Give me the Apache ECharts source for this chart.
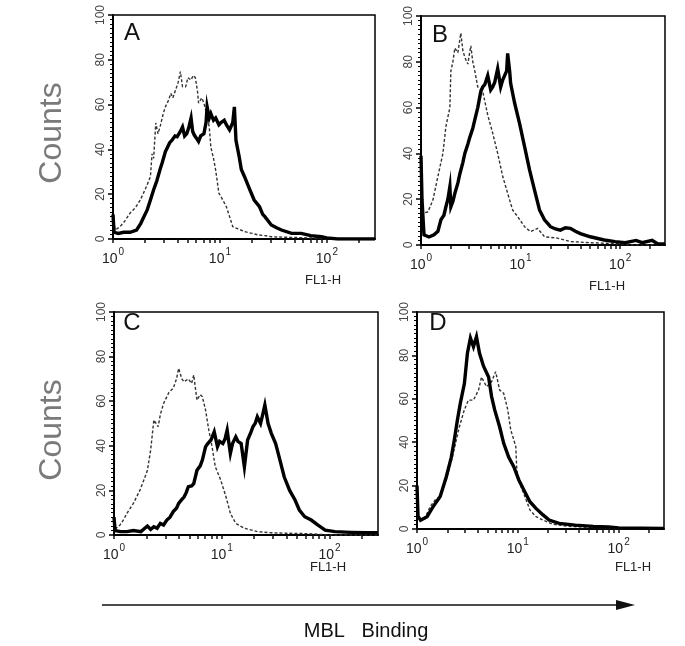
<!DOCTYPE html>
<html><head><meta charset="utf-8">
<script src="https://cdn.jsdelivr.net/npm/echarts@6/dist/echarts.min.js"></script>
<style>html,body{margin:0;padding:0;background:#fff}#c{width:685px;height:646px}</style>
</head><body><div id="c"></div>
<script>
// ---------- DATA (x in decades: log10 of FL1-H, y = counts) ----------
const panelLetters = ['A', 'B', 'C', 'D'];
const xAxisTitle = 'FL1-H';
const yAxisTitle = 'Counts';
const bottomTitle = 'MBL   Binding';
const decadeExponents = [0, 1, 2];            // labels 10^0, 10^1, 10^2
const fl1TickValues = [1,2,3,4,5,6,7,8,9,10,20,30,40,50,60,70,80,90,100,200];
const yTickMax = 100;

const A_control = [[0,10],[0.02,4],[0.066,5.5],[0.11,8],[0.16,11.6],[0.21,14],[0.255,17.4],[0.30,22],[0.35,27.8],[0.365,38],[0.38,36],[0.40,51.8],[0.42,47],[0.44,50],[0.47,56],[0.49,59],[0.52,62],[0.54,65],[0.56,63],[0.585,66.5],[0.61,70],[0.63,74.7],[0.65,68],[0.68,68],[0.70,72],[0.73,71],[0.75,73],[0.77,72],[0.79,66],[0.80,60.7],[0.83,63],[0.85,60.7],[0.87,57],[0.90,50],[0.915,41],[0.94,36],[0.96,30.8],[0.99,20.5],[1.02,18],[1.06,14.4],[1.09,10],[1.12,5.5],[1.17,4.5],[1.23,3.3],[1.30,2.5],[1.36,1.8],[1.42,1.5],[1.48,1],[1.6,0.8],[1.75,0.6],[1.9,0.4],[2.0,0],[2.45,0]];
const A_mbl = [[0,11],[0.01,3],[0.05,2.5],[0.10,3],[0.16,3],[0.22,4],[0.26,7],[0.29,10],[0.32,13],[0.35,17.4],[0.38,22],[0.41,26],[0.44,31],[0.46,34],[0.49,39],[0.51,41],[0.53,43],[0.55,44],[0.58,46],[0.60,45.7],[0.63,48],[0.65,50],[0.67,46],[0.69,47],[0.71,50],[0.73,54],[0.745,48],[0.76,46.4],[0.78,45],[0.80,43.5],[0.82,46],[0.85,47],[0.87,52],[0.88,59],[0.90,54],[0.915,56],[0.94,53],[0.96,54],[0.99,51],[1.01,52],[1.04,53],[1.06,51],[1.09,48.7],[1.12,52],[1.135,59],[1.15,44],[1.18,36.7],[1.20,31],[1.23,27.8],[1.28,21.9],[1.32,17.4],[1.37,14.4],[1.40,11],[1.42,10],[1.48,6.25],[1.53,5],[1.575,4],[1.67,2.5],[1.76,2.5],[1.85,1.5],[1.95,1],[2.0,0.5],[2.1,0],[2.45,0]];

const B_control = [[0,15],[0.03,14],[0.07,14.5],[0.12,19.7],[0.17,30],[0.22,40],[0.25,51.7],[0.29,60],[0.30,76],[0.32,80],[0.34,86],[0.37,84],[0.40,92.5],[0.42,85],[0.44,82],[0.47,79],[0.50,87],[0.52,80],[0.54,76],[0.57,69],[0.62,67],[0.67,56.8],[0.72,48.8],[0.77,40],[0.82,30],[0.87,22.6],[0.92,15.3],[0.97,12.4],[1.04,8],[1.10,5.8],[1.17,7.3],[1.24,3.6],[1.37,3],[1.50,1.5],[1.7,1],[2.0,0.5],[2.1,0],[2.45,0]];
const B_mbl = [[0,39],[0.01,20],[0.03,4.4],[0.08,3.5],[0.13,4.5],[0.17,6],[0.20,11],[0.23,13],[0.25,16.7],[0.27,20],[0.29,25.5],[0.30,16.7],[0.32,19],[0.34,22.6],[0.37,27],[0.39,31],[0.42,36],[0.44,40],[0.47,44],[0.49,47],[0.52,51],[0.54,54.6],[0.57,60],[0.60,67],[0.62,69],[0.64,70],[0.67,74],[0.70,67.7],[0.72,69],[0.74,71],[0.77,77],[0.80,69],[0.82,72],[0.84,72],[0.86,76],[0.87,83.7],[0.89,76],[0.90,70.6],[0.94,62],[0.99,53],[1.04,43],[1.09,32.8],[1.14,24],[1.19,15.3],[1.24,11],[1.30,8],[1.35,7],[1.40,6.5],[1.45,7.5],[1.50,7.3],[1.55,6],[1.60,5],[1.70,3.6],[1.84,2.2],[1.95,1.5],[2.05,1],[2.16,2],[2.22,1],[2.32,2],[2.38,0.5],[2.45,0.5]];

const C_control = [[0,8],[0.02,3],[0.056,4.5],[0.09,7],[0.12,9.7],[0.18,14.2],[0.24,20],[0.28,25],[0.31,29],[0.34,38],[0.37,51.6],[0.41,48.6],[0.43,54],[0.46,59],[0.51,64],[0.55,65.8],[0.58,70],[0.60,74.7],[0.63,70],[0.65,68.7],[0.69,70],[0.72,68],[0.74,71.7],[0.77,60.5],[0.80,63],[0.82,62],[0.85,56],[0.88,47],[0.91,39.6],[0.94,30.6],[0.99,24.7],[1.04,17],[1.08,9.7],[1.13,5.2],[1.21,3],[1.33,1.5],[1.46,1],[1.6,0.8],[1.8,0.6],[1.9,0.3],[2.0,0],[2.45,0]];
const C_mbl = [[0,8],[0.01,2],[0.06,1.5],[0.12,1.5],[0.18,2],[0.25,1.5],[0.31,4],[0.34,2.5],[0.37,3.7],[0.40,3],[0.43,5.2],[0.46,4.5],[0.49,6.7],[0.52,8],[0.55,10.5],[0.58,12],[0.60,14.2],[0.63,16],[0.65,17],[0.67,19],[0.69,21.7],[0.72,22],[0.74,23],[0.77,29],[0.80,31],[0.82,33.6],[0.85,39.6],[0.87,41],[0.90,42.6],[0.93,46.3],[0.96,39.6],[0.98,42],[1.01,41],[1.03,43],[1.05,47],[1.08,36.6],[1.10,41],[1.13,44],[1.15,42],[1.18,41],[1.21,30.6],[1.24,42.6],[1.27,46],[1.29,48.6],[1.31,50],[1.33,53],[1.36,50],[1.38,54],[1.40,58.3],[1.43,50],[1.46,45.6],[1.50,41],[1.54,33.6],[1.58,26],[1.63,20],[1.68,15.7],[1.72,11.2],[1.77,8.2],[1.83,6.7],[1.89,4.5],[1.96,2.2],[2.05,1.5],[2.2,1.2],[2.35,1],[2.45,1]];

const D_control = [[0,15],[0.02,4],[0.07,4],[0.13,10.3],[0.18,13.4],[0.23,15],[0.29,22.6],[0.35,33],[0.42,47],[0.47,55],[0.51,59.4],[0.56,59.4],[0.61,64],[0.64,70],[0.69,65.6],[0.74,67.9],[0.78,72.5],[0.82,64],[0.86,62.5],[0.90,55],[0.93,45.6],[0.98,38],[0.99,27],[1.02,21],[1.07,15],[1.12,8.8],[1.18,5.7],[1.25,4.1],[1.34,2.3],[1.5,1.2],[1.7,0.8],[1.9,0.5],[2.0,0],[2.45,0]];
const D_mbl = [[0,20],[0.01,6],[0.035,4],[0.10,5.7],[0.16,10.3],[0.23,15],[0.29,24],[0.34,33],[0.37,41],[0.40,50],[0.43,58],[0.47,67],[0.50,81],[0.53,88],[0.56,84],[0.59,88.6],[0.62,81],[0.66,75],[0.71,70],[0.74,61],[0.77,55],[0.82,47],[0.86,39.5],[0.91,33],[0.96,28.7],[1.01,22.6],[1.06,18],[1.12,12.6],[1.18,9.5],[1.25,6.5],[1.31,4.1],[1.41,2.6],[1.57,1.8],[1.75,1.2],[1.9,1],[2.0,0.5],[2.45,0.3]];

const controlSeries = [A_control, B_control, C_control, D_control];
const mblSeries = [A_mbl, B_mbl, C_mbl, D_mbl];

// ---------- LAYOUT ----------
const grids = [
  {left: 113, top: 15, width: 262, height: 224},
  {left: 421, top: 16, width: 244, height: 229},
  {left: 114, top: 312, width: 264, height: 223},
  {left: 417, top: 312, width: 247, height: 217}
];
const letterPos = [[132, 33], [440, 35], [132, 323], [438, 323]];
const fl1Pos = [[323, 280], [607, 286], [328, 567], [633, 567]];
const FONT = "'Liberation Sans', Arial, sans-serif";
const xMax = 2.45;

const chart = echarts.init(document.getElementById('c'), null, {renderer: 'canvas'});
const tickPositions = fl1TickValues.map(v => Math.log10(v));

const xAxes = grids.map((g, i) => ({
  type: 'value', gridIndex: i, min: 0, max: xMax, interval: 1,
  axisLine: {show: true, onZero: false, lineStyle: {color: '#000', width: 2}},
  axisTick: {show: true, length: 4, customValues: tickPositions, lineStyle: {color: '#111', width: 1.5}},
  axisLabel: {
    customValues: decadeExponents, margin: 8, color: '#222',
    formatter: v => '{b|10}{s|' + Math.round(v) + '}',
    rich: {
      b: {fontSize: 14, fontFamily: FONT, color: '#222', verticalAlign: 'bottom', lineHeight: 19},
      s: {fontSize: 10, fontFamily: FONT, color: '#222', verticalAlign: 'top', lineHeight: 19, padding: [0, 0, 8, 1]}
    }
  },
  splitLine: {show: false}
}));
const yAxes = grids.map((g, i) => ({
  type: 'value', gridIndex: i, min: 0, max: yTickMax, interval: 20,
  axisLine: {show: true, lineStyle: {color: '#000', width: 2}},
  axisTick: {show: true, length: 5, lineStyle: {color: '#000', width: 1.5}},
  minorTick: {show: true, splitNumber: 10, length: 3, lineStyle: {color: '#000', width: 1}},
  axisLabel: {rotate: 90, fontSize: 12, fontFamily: FONT, color: '#444', margin: 6},
  splitLine: {show: false}
}));

const series = [];
grids.forEach((g, i) => {
  series.push({
    type: 'line', xAxisIndex: i, yAxisIndex: i, data: controlSeries[i],
    showSymbol: false, silent: true, z: 2,
    lineStyle: {color: '#333', width: 1.4, type: [3, 2]}
  });
  series.push({
    type: 'line', xAxisIndex: i, yAxisIndex: i, data: mblSeries[i],
    showSymbol: false, silent: true, z: 3,
    lineStyle: {color: '#000', width: 3.4, join: 'miter'}
  });
});

const graphic = [];
panelLetters.forEach((L, i) => {
  graphic.push({type: 'text', x: letterPos[i][0], y: letterPos[i][1], z: 10,
    style: {text: L, font: 'normal 24px ' + FONT, fill: '#111', textAlign: 'center', textVerticalAlign: 'middle'}});
  graphic.push({type: 'text', x: fl1Pos[i][0], y: fl1Pos[i][1], z: 10,
    style: {text: xAxisTitle, font: 'normal 13px ' + FONT, fill: '#222', textAlign: 'center', textVerticalAlign: 'middle'}});
});
[[52, 133], [52, 430]].forEach(p => {
  graphic.push({type: 'text', x: p[0], y: p[1], rotation: Math.PI / 2, z: 10,
    style: {text: yAxisTitle, font: 'normal 32px ' + FONT, fill: '#7a7a7a', textAlign: 'center', textVerticalAlign: 'middle'}});
});
graphic.push({type: 'line', shape: {x1: 102, y1: 605, x2: 624, y2: 605}, style: {stroke: '#111', lineWidth: 1.5}});
graphic.push({type: 'polygon', shape: {points: [[635, 605], [616, 600], [616, 610]]}, style: {fill: '#111'}});
graphic.push({type: 'text', x: 366, y: 631, style: {text: bottomTitle, font: 'normal 20px ' + FONT, fill: '#111', textAlign: 'center', textVerticalAlign: 'middle'}});

chart.setOption({
  animation: false,
  backgroundColor: '#fff',
  grid: grids.map(g => Object.assign({show: true, borderColor: '#000', borderWidth: 1.5, backgroundColor: 'transparent'}, g)),
  xAxis: xAxes,
  yAxis: yAxes,
  series: series,
  graphic: graphic
});
</script>
</body></html>
